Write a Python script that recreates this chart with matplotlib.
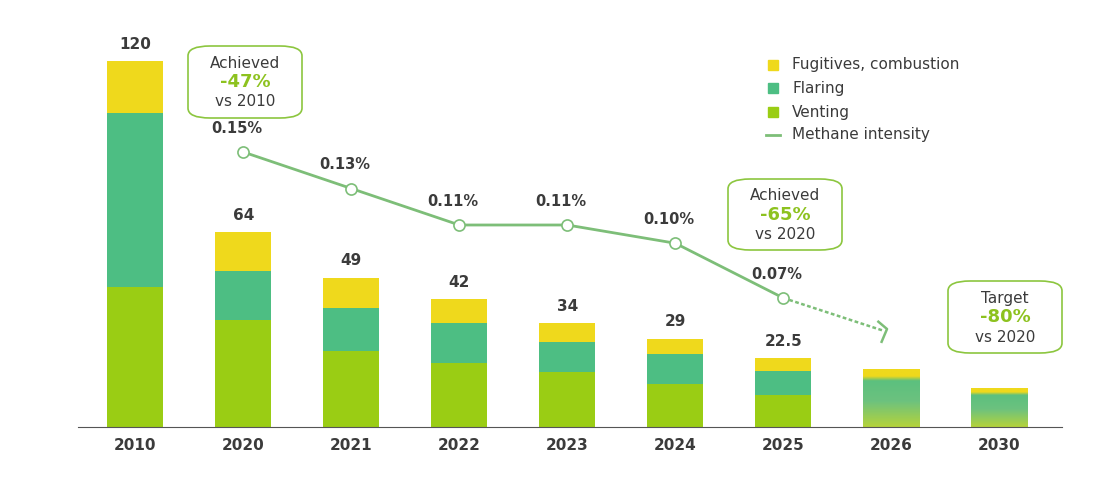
import matplotlib
matplotlib.use("Agg")
import matplotlib.pyplot as plt
import numpy as np
from matplotlib.patches import FancyBboxPatch, Rectangle
from matplotlib.colors import LinearSegmentedColormap

years = ["2010", "2020", "2021", "2022", "2023", "2024", "2025", "2026", "2030"]
venting = [46, 35, 25, 21, 18, 14, 10.5]
flaring = [57, 16, 14, 13, 10, 10, 8]
fugitives = [17, 13, 10, 8, 6, 5, 4]
totals_lbl = ["120", "64", "49", "42", "34", "29", "22.5"]
proj_totals = [19, 12.8]
intensity = [0.15, 0.13, 0.11, 0.11, 0.10, 0.07]
intensity_lbl = ["0.15%", "0.13%", "0.11%", "0.11%", "0.10%", "0.07%"]
proj_intensity = 0.05

YEL = "#EFD91C"; FLA = "#4DBE83"; VEN = "#9ACD14"; LINE = "#7DBE78"; TXT = "#3b3b3b"
W, H = 1107, 491
fig = plt.figure(figsize=(W/100, H/100), dpi=100)
ax = fig.add_axes([78/W, (H-427)/H, 984/W, 427/H])
ax.set_xlim(-0.53, 8.58); ax.set_ylim(0, 140)
for s in ["top", "right", "left"]:
    ax.spines[s].set_visible(False)
ax.spines["bottom"].set_color("#555555"); ax.spines["bottom"].set_linewidth(0.8)
ax.set_yticks([])
x = np.arange(len(years))
ax.set_xticks(x); ax.set_xticklabels(years, fontweight="bold", fontsize=11, color=TXT)
ax.tick_params(axis="x", length=0, pad=8)
bw = 0.52
n = len(venting)
v = np.array(venting); f = np.array(flaring); g = np.array(fugitives)
ax.bar(x[:n], v, bw, color=VEN, zorder=2)
ax.bar(x[:n], f, bw, bottom=v, color=FLA, zorder=2)
ax.bar(x[:n], g, bw, bottom=v+f, color=YEL, zorder=2)
for i in range(n):
    ax.text(x[i], v[i]+f[i]+g[i]+3, totals_lbl[i], ha="center", va="bottom",
            fontweight="bold", fontsize=11, color=TXT)
cmap = LinearSegmentedColormap.from_list("g", [(0, "#B5D33A"), (0.45, "#6CC27F"), (0.8, "#5CC07E"), (0.88, YEL), (1, YEL)])
grad = np.linspace(0, 1, 200).reshape(-1, 1)
for j, t in enumerate(proj_totals):
    xi = x[n+j]
    im = ax.imshow(grad, cmap=cmap, origin="lower", aspect="auto",
                   extent=[xi-bw/2, xi+bw/2, 0, t], zorder=2)
    r = Rectangle((xi-bw/2, 0), bw, t, transform=ax.transData, fill=False, lw=0)
    ax.add_patch(r); im.set_clip_path(r)

ax2 = ax.twinx()
ax2.set_position(ax.get_position())
ax2.set_ylim(-0.0007, 0.2333); ax2.axis("off")
xi = x[1:1+len(intensity)]
ax2.plot(xi, intensity, color=LINE, lw=2, marker="o", ms=8, mfc="white", mec=LINE, mew=1.2, zorder=3)
ax2.plot([xi[-1], x[7]-0.07], [intensity[-1], proj_intensity+0.002], color=LINE, lw=1.8, ls=(0, (1.5, 1)))
ax2.plot([x[7]-0.12, x[7]-0.04, x[7]-0.09], [proj_intensity+0.007, proj_intensity+0.003, proj_intensity-0.004],
         color=LINE, lw=1.8)
for xx, yy, lbl in zip(xi, intensity, intensity_lbl):
    ax2.text(xx-0.06, yy+0.009, lbl, ha="center", va="bottom", fontweight="bold", fontsize=10.5, color=TXT)

def box(cx, y0, y1, w, l1, l2, l3):
    bx = FancyBboxPatch(((cx-w/2)/W, 1-y1/H), w/W, (y1-y0)/H, boxstyle="round,pad=0,rounding_size=0.02",
                        transform=fig.transFigure, fc="white", ec="#8CC63F", lw=1.2, zorder=5)
    fig.patches.append(bx)
    fig.text(cx/W, 1-(y0+17)/H, l1, ha="center", va="center", fontsize=11, color=TXT, zorder=6)
    fig.text(cx/W, 1-(y0+36)/H, l2, ha="center", va="center", fontsize=13, fontweight="bold", color="#8DC21F", zorder=6)
    fig.text(cx/W, 1-(y0+56)/H, l3, ha="center", va="center", fontsize=11, color=TXT, zorder=6)
box(245, 46, 118, 114, "Achieved", "-47%", "vs 2010")
box(785, 179, 250, 114, "Achieved", "-65%", "vs 2020")
box(1005, 281, 353, 114, "Target", "-80%", "vs 2020")

for yy, c, lbl in [(65, YEL, "Fugitives, combustion"), (88, FLA, "Flaring"), (112, VEN, "Venting")]:
    fig.patches.append(Rectangle(((768)/W, 1-(yy+5)/H), 10/W, 10/H, transform=fig.transFigure, color=c))
    fig.text(792/W, 1-yy/H, lbl, va="center", fontsize=11, color=TXT)
fig.lines.append(plt.Line2D([766/W, 780/W], [1-135/H]*2, transform=fig.transFigure, color=LINE, lw=2))
fig.text(792/W, 1-135/H, "Methane intensity", va="center", fontsize=11, color=TXT)
fig.savefig("out.png", dpi=100)
